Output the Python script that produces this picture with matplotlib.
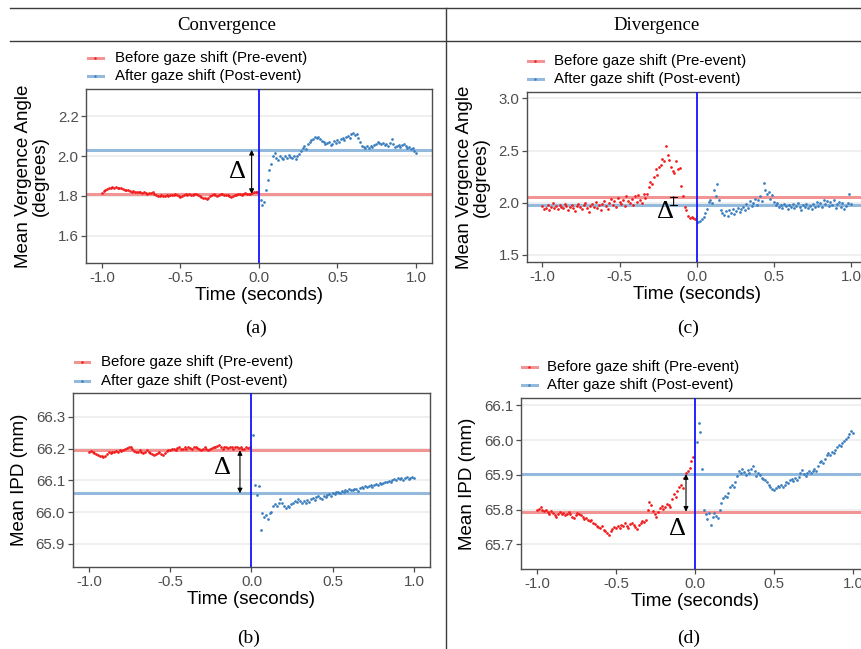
import numpy as np
import matplotlib
matplotlib.use("Agg")
import matplotlib.pyplot as plt
from matplotlib.lines import Line2D
from matplotlib.transforms import blended_transform_factory

plt.rcParams['axes.unicode_minus'] = False

W, H = 862, 649
SANS = 'Liberation Sans'
SERIF = 'Liberation Serif'

# ---------------- data ----------------
t_pre = np.arange(90) / 90 - 1.0
t_post = np.arange(1, 91) / 90

conv_angle_pre = [1.815, 1.825, 1.832, 1.836, 1.840, 1.842, 1.843, 1.841, 1.843, 1.840,
                  1.838, 1.840, 1.836, 1.832, 1.830, 1.828, 1.826, 1.822, 1.824, 1.820,
                  1.822, 1.818, 1.820, 1.816, 1.818, 1.815, 1.812, 1.816, 1.814, 1.818,
                  1.812, 1.806, 1.802, 1.800, 1.804, 1.798, 1.800, 1.804, 1.802, 1.806,
                  1.803, 1.806, 1.808, 1.804, 1.800, 1.796, 1.800, 1.805, 1.808, 1.806,
                  1.810, 1.806, 1.804, 1.808, 1.812, 1.806, 1.800, 1.796, 1.792, 1.788,
                  1.786, 1.792, 1.800, 1.806, 1.808, 1.805, 1.802, 1.806, 1.810, 1.808,
                  1.804, 1.806, 1.804, 1.800, 1.796, 1.802, 1.806, 1.804, 1.808, 1.812,
                  1.806, 1.810, 1.814, 1.812, 1.808, 1.812, 1.816, 1.820, 1.818, 1.822]
conv_angle_post = [1.780, 1.755, 1.770, 1.830, 1.880, 1.930, 1.960, 2.000, 2.015, 1.990,
                   1.980, 2.000, 1.990, 1.985, 2.000, 1.990, 2.005, 1.995, 1.990, 2.000,
                   1.985, 2.000, 2.010, 2.025, 2.040, 2.050, 2.035, 2.060, 2.070, 2.080,
                   2.085, 2.095, 2.090, 2.095, 2.085, 2.075, 2.070, 2.060, 2.065, 2.070,
                   2.055, 2.060, 2.075, 2.065, 2.080, 2.070, 2.085, 2.090, 2.080, 2.095,
                   2.100, 2.090, 2.110, 2.115, 2.105, 2.110, 2.090, 2.070, 2.050, 2.045,
                   2.040, 2.050, 2.040, 2.050, 2.045, 2.055, 2.060, 2.070, 2.065, 2.060,
                   2.065, 2.055, 2.060, 2.050, 2.065, 2.085, 2.060, 2.045, 2.050, 2.055,
                   2.045, 2.055, 2.060, 2.050, 2.040, 2.045, 2.035, 2.040, 2.025, 2.015]

div_angle_pre = [1.97, 1.94, 1.95, 1.98, 1.93, 1.96, 2.00, 1.95, 1.97, 1.94,
                 1.98, 1.96, 1.95, 1.99, 1.97, 1.93, 1.96, 1.98, 1.95, 1.92,
                 1.97, 1.99, 1.96, 1.94, 1.98, 2.00, 1.95, 1.91, 1.97, 1.99,
                 1.96, 2.01, 1.95, 1.98, 1.93, 1.99, 2.02, 1.97, 1.94, 2.00,
                 2.04, 1.98, 2.02, 1.96, 2.05, 2.01, 1.99, 2.03, 1.97, 2.06,
                 2.02, 2.00, 2.04, 1.98, 2.06, 2.01, 2.07, 2.03, 2.00, 2.08,
                 2.05, 2.08, 2.15, 2.20, 2.18, 2.25, 2.32, 2.27, 2.34, 2.36,
                 2.42, 2.40, 2.54, 2.46, 2.41, 2.34, 2.30, 2.28, 2.40, 2.32,
                 2.33, 2.16, 2.06, 1.96, 1.93, 1.87, 1.855, 1.86, 1.85, 1.84]
div_angle_post = [1.82, 1.83, 1.84, 1.86, 1.90, 1.94, 2.01, 2.03, 2.00, 2.12,
                  2.06, 2.18, 2.03, 1.93, 1.90, 1.88, 1.92, 1.87, 1.93, 1.90,
                  1.94, 1.89, 1.92, 1.95, 1.91, 1.94, 1.96, 1.93, 1.99, 1.95,
                  2.02, 1.97, 2.00, 2.04, 1.98, 2.03, 2.06, 2.02, 2.19, 2.12,
                  2.08, 2.10, 2.04, 2.07, 2.01, 1.98, 2.00, 1.96, 1.98, 1.95,
                  1.99, 1.97, 1.94, 1.98, 1.96, 1.99, 1.95, 1.97, 2.00, 1.96,
                  1.93, 1.98, 1.96, 1.99, 1.95, 1.97, 1.94, 1.99, 1.96, 2.01,
                  1.97, 2.00, 1.96, 2.03, 1.99, 2.02, 1.97, 2.01, 1.98, 2.03,
                  1.95, 1.99, 2.01, 1.96, 2.00, 1.94, 1.97, 2.00, 2.08, 1.99]

conv_ipd_pre = [66.190, 66.192, 66.188, 66.185, 66.182, 66.180, 66.178, 66.176, 66.175, 66.178,
                66.184, 66.188, 66.186, 66.190, 66.188, 66.192, 66.190, 66.194, 66.192, 66.196,
                66.198, 66.202, 66.206, 66.204, 66.198, 66.192, 66.188, 66.190, 66.194, 66.190,
                66.186, 66.190, 66.194, 66.190, 66.186, 66.184, 66.180, 66.182, 66.186, 66.190,
                66.184, 66.180, 66.186, 66.192, 66.196, 66.194, 66.198, 66.200, 66.196, 66.202,
                66.204, 66.200, 66.198, 66.204, 66.200, 66.206, 66.202, 66.198, 66.204, 66.206,
                66.202, 66.198, 66.196, 66.200, 66.204, 66.200, 66.196, 66.198, 66.202, 66.206,
                66.204, 66.208, 66.210, 66.204, 66.200, 66.204, 66.206, 66.202, 66.206, 66.204,
                66.200, 66.204, 66.206, 66.202, 66.204, 66.200, 66.198, 66.204, 66.202, 66.206]
conv_ipd_post = [66.242, 66.085, 66.055, 66.082, 65.943, 65.998, 65.985, 65.990, 65.978, 65.996,
                 66.000, 66.018, 66.026, 66.020, 66.030, 66.042, 66.028, 66.018, 66.012, 66.020,
                 66.016, 66.024, 66.030, 66.036, 66.032, 66.040, 66.034, 66.028, 66.036, 66.030,
                 66.038, 66.032, 66.040, 66.044, 66.038, 66.046, 66.050, 66.044, 66.040, 66.050,
                 66.046, 66.054, 66.058, 66.052, 66.060, 66.056, 66.062, 66.064, 66.060, 66.066,
                 66.064, 66.068, 66.066, 66.072, 66.070, 66.068, 66.074, 66.072, 66.066, 66.076,
                 66.080, 66.076, 66.082, 66.078, 66.082, 66.086, 66.080, 66.084, 66.088, 66.086,
                 66.090, 66.088, 66.092, 66.096, 66.094, 66.098, 66.094, 66.100, 66.104, 66.100,
                 66.106, 66.104, 66.108, 66.102, 66.106, 66.110, 66.104, 66.108, 66.112, 66.108]

div_ipd_pre = [65.800, 65.803, 65.806, 65.798, 65.795, 65.800, 65.792, 65.788, 65.795, 65.790,
               65.785, 65.780, 65.788, 65.792, 65.786, 65.790, 65.784, 65.788, 65.792, 65.786,
               65.780, 65.776, 65.784, 65.790, 65.788, 65.784, 65.778, 65.772, 65.776, 65.770,
               65.766, 65.770, 65.762, 65.758, 65.754, 65.750, 65.746, 65.752, 65.742, 65.738,
               65.734, 65.728, 65.738, 65.744, 65.750, 65.746, 65.754, 65.748, 65.756, 65.752,
               65.760, 65.754, 65.748, 65.758, 65.762, 65.756, 65.750, 65.744, 65.756, 65.762,
               65.768, 65.764, 65.770, 65.800, 65.822, 65.812, 65.796, 65.786, 65.780, 65.792,
               65.804, 65.810, 65.802, 65.808, 65.816, 65.812, 65.806, 65.830, 65.846, 65.836,
               65.852, 65.866, 65.872, 65.862, 65.890, 65.906, 65.912, 65.920, 65.940, 65.952]
div_ipd_post = [65.994, 66.048, 66.024, 65.916, 65.800, 65.786, 65.772, 65.790, 65.756, 65.778,
                65.790, 65.782, 65.776, 65.800, 65.820, 65.832, 65.840, 65.836, 65.848, 65.866,
                65.872, 65.864, 65.880, 65.896, 65.912, 65.904, 65.918, 65.908, 65.900, 65.914,
                65.906, 65.918, 65.924, 65.910, 65.896, 65.906, 65.900, 65.892, 65.888, 65.884,
                65.878, 65.870, 65.864, 65.860, 65.856, 65.862, 65.868, 65.864, 65.870, 65.866,
                65.872, 65.880, 65.876, 65.884, 65.888, 65.882, 65.890, 65.886, 65.894, 65.906,
                65.914, 65.902, 65.896, 65.906, 65.910, 65.904, 65.912, 65.918, 65.912, 65.924,
                65.936, 65.940, 65.934, 65.946, 65.956, 65.962, 65.958, 65.966, 65.962, 65.972,
                65.980, 65.986, 65.984, 65.992, 65.996, 66.004, 66.010, 66.016, 66.026, 66.020]

# mean (reference) levels for pre / post
conv_angle_means = [1.810, 2.031]
div_angle_means = [2.057, 1.980]
conv_ipd_means = [66.195, 66.059]
div_ipd_means = [65.794, 65.902]

x_ticks = [-1.0, -0.5, 0.0, 0.5, 1.0]
conv_angle_yticks = [1.6, 1.8, 2.0, 2.2]
div_angle_yticks = [1.5, 2.0, 2.5, 3.0]
conv_ipd_yticks = [65.9, 66.0, 66.1, 66.2, 66.3]
div_ipd_yticks = [65.7, 65.8, 65.9, 66.0, 66.1]

legend_labels = ["Before gaze shift (Pre-event)", "After gaze shift (Post-event)"]
column_titles = ["Convergence", "Divergence"]
panel_tags = ["(a)", "(b)", "(c)", "(d)"]

# ---------------- style ----------------
RED_PT = '#F21B1B'
BLUE_PT = '#3A7EBE'
RED_LINE = '#F29494'
BLUE_LINE = '#93B9DC'
VLINE = '#1414FF'
GRID = '#EBEBEB'
BORDER = '#4D4D4D'
TICKC = '#4D4D4D'

fig = plt.figure(figsize=(W / 100, H / 100), dpi=100)


def px_axes(left, right, top, bottom):
    return fig.add_axes([left / W, 1 - bottom / H, (right - left) / W, (bottom - top) / H])


def draw_panel(ax, pre, post, means, yticks, ylim, ylabel, ylabel_x):
    ax.set_xlim(-1.1, 1.1)
    ax.set_ylim(*ylim)
    ax.set_xticks(x_ticks)
    ax.set_xticklabels([f"{v:.1f}" for v in x_ticks])
    ax.set_yticks(yticks)
    ax.set_yticklabels([f"{v:.1f}" for v in yticks])
    ax.grid(axis='y', color=GRID, lw=1.1, zorder=0)
    ax.set_axisbelow(True)
    for s in ax.spines.values():
        s.set_color(BORDER)
        s.set_linewidth(1.0)
    ax.tick_params(axis='both', colors=BORDER, length=3.5, width=0.9, labelsize=10.8,
                   labelcolor=TICKC, pad=2)
    for lab in ax.get_xticklabels() + ax.get_yticklabels():
        lab.set_family(SANS)
    ax.axhline(means[0], color=RED_LINE, lw=2.2, zorder=1.5)
    ax.axhline(means[1], color=BLUE_LINE, lw=2.2, zorder=1.5)
    ax.scatter(t_pre, pre, s=3.8, color=RED_PT, linewidths=0, zorder=2.5)
    ax.scatter(t_post, post, s=3.8, color=BLUE_PT, linewidths=0, zorder=2.5)
    ax.axvline(0, color=VLINE, lw=1.3, zorder=3)
    ax.set_xlabel("Time (seconds)", fontsize=13.5, family=SANS, labelpad=2)
    ax.set_ylabel(ylabel, fontsize=13.5, family=SANS, linespacing=1.0, ha='center',
                  va='center')
    ax.yaxis.set_label_coords(ylabel_x, 0.5,
                              transform=blended_transform_factory(fig.transFigure,
                                                                  ax.transAxes))


def delta(ax, t, y1, y2, tx, ty, size=19):
    ax.annotate('', xy=(t, y1), xytext=(t, y2),
                arrowprops=dict(arrowstyle='<|-|>', color='black', lw=0.8,
                                mutation_scale=7, shrinkA=0, shrinkB=0), zorder=4)
    ax.text(tx, ty, 'Δ', fontsize=size, family=SERIF, ha='center', va='center',
            zorder=4)


def legend(x0, x1, y_red, y_blue, xtext):
    for y, lc, pc, lab in [(y_red, RED_LINE, RED_PT, legend_labels[0]),
                           (y_blue, BLUE_LINE, BLUE_PT, legend_labels[1])]:
        fy = 1 - y / H
        fig.add_artist(Line2D([x0 / W, x1 / W], [fy, fy], color=lc, lw=2.2))
        fig.add_artist(Line2D([(x0 + x1) / 2 / W], [fy], marker='o', ms=1.8,
                              color=pc, mew=0))
        fig.text(xtext / W, fy, lab, fontsize=10.8, family=SANS, va='center', ha='left')


# panel (a)
ax_a = px_axes(86.3, 431.7, 89, 263)
draw_panel(ax_a, conv_angle_pre, conv_angle_post, conv_angle_means, conv_angle_yticks,
           (1.463, 2.337), "Mean Vergence Angle\n(degrees)", 32 / W)
delta(ax_a, -0.047, conv_angle_means[0], conv_angle_means[1], -0.134, 1.92)
legend(88, 103, 58, 76, 115)

# panel (b)
ax_b = px_axes(72.75, 430.25, 393, 567)
draw_panel(ax_b, conv_ipd_pre, conv_ipd_post, conv_ipd_means, conv_ipd_yticks,
           (65.827, 66.375), "Mean IPD (mm)", 20 / W)
delta(ax_b, -0.071, conv_ipd_means[0], conv_ipd_means[1], -0.18, 66.14)
legend(75, 89, 362, 381, 101)

# panel (c)
ax_c = px_axes(527, 866.5, 92, 262)
draw_panel(ax_c, div_angle_pre, div_angle_post, div_angle_means, div_angle_yticks,
           (1.433, 3.06), "Mean Vergence Angle\n(degrees)", 473 / W)
ax_c.annotate('', xy=(-0.15, div_angle_means[0]), xytext=(-0.15, div_angle_means[1]),
              arrowprops=dict(arrowstyle='|-|', color='black', lw=0.8,
                              mutation_scale=2.5, shrinkA=0, shrinkB=0), zorder=4)
ax_c.text(-0.204, 1.915, 'Δ', fontsize=19, family=SERIF, ha='center', va='center', zorder=4)
legend(528, 543, 61, 79, 554)

# panel (d)
ax_d = px_axes(521.2, 868.8, 398, 569)
draw_panel(ax_d, div_ipd_pre, div_ipd_post, div_ipd_means, div_ipd_yticks,
           (65.629, 66.121), "Mean IPD (mm)", 467.5 / W)
delta(ax_d, -0.057, div_ipd_means[0], div_ipd_means[1], -0.11, 65.744)
legend(522, 537, 367, 385, 547)

# table frame
LINEC = '#3C3C3C'
fig.add_artist(Line2D([10 / W, 1], [1 - 8 / H] * 2, color=LINEC, lw=1.0))
fig.add_artist(Line2D([10 / W, 1], [1 - 41 / H] * 2, color=LINEC, lw=1.0))
fig.add_artist(Line2D([446 / W] * 2, [0, 1 - 8 / H], color=LINEC, lw=1.0))

fig.text(227 / W, 1 - 25 / H, column_titles[0], fontsize=13.5, family=SERIF,
         ha='center', va='center')
fig.text(657 / W, 1 - 25 / H, column_titles[1], fontsize=13.5, family=SERIF,
         ha='center', va='center')

for tag, x, y in zip(panel_tags, [256, 249, 688, 689], [328, 638, 328, 638]):
    fig.text(x / W, 1 - y / H, tag, fontsize=14, family=SERIF, ha='center', va='center')

fig.savefig("out.png", dpi=100)
